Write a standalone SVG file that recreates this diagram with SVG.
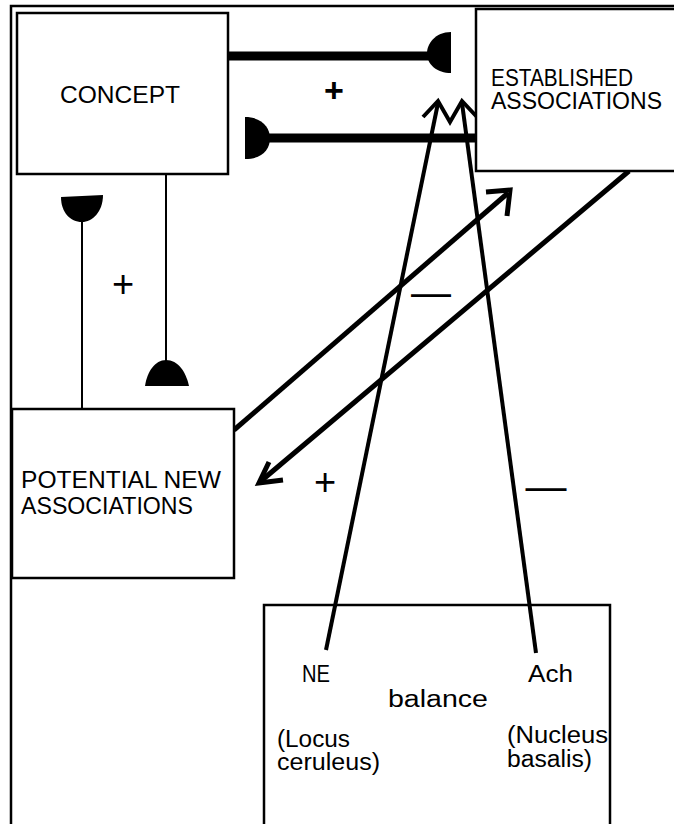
<svg xmlns="http://www.w3.org/2000/svg" width="674" height="824" viewBox="0 0 674 824">
<style>
.box{fill:#fff;stroke:#000;stroke-width:2.5}
.open{fill:none;stroke:#000;stroke-width:2.5}
.t{font-family:"Liberation Sans",Arial,sans-serif;font-size:23px;fill:#000}
.thin{stroke:#000;stroke-width:2;fill:none}
.thick{stroke:#000;stroke-width:9;fill:none}
.arr{stroke:#000;stroke-width:5;fill:none;stroke-linejoin:miter}
.mid{stroke:#000;stroke-width:4;fill:none}
.cup{fill:#000;stroke:none}
.sign{font-family:"Liberation Sans",Arial,sans-serif;fill:#000;text-anchor:middle}
</style>
<rect width="674" height="824" fill="#fff"/>
<path d="M11,824 L11,6 L674,6" stroke="#000" stroke-width="2.5" fill="none"/>
<g id="balance">
  <rect class="open" x="264" y="605" width="346" height="240"/>
  <text class="t" x="302" y="682" textLength="28" lengthAdjust="spacingAndGlyphs">NE</text>
  <text class="t" x="528" y="682" textLength="45" lengthAdjust="spacingAndGlyphs">Ach</text>
  <text class="t" x="388" y="707" textLength="100" lengthAdjust="spacingAndGlyphs">balance</text>
  <text class="t" x="277" y="747" textLength="73" lengthAdjust="spacingAndGlyphs">(Locus</text>
  <text class="t" x="277" y="770" textLength="103" lengthAdjust="spacingAndGlyphs">ceruleus)</text>
  <text class="t" x="507" y="743" textLength="101" lengthAdjust="spacingAndGlyphs">(Nucleus</text>
  <text class="t" x="507" y="767" textLength="85" lengthAdjust="spacingAndGlyphs">basalis)</text>
</g>
<g id="connectors">
  <line class="thick" x1="228" y1="56" x2="432" y2="56"/>
  <path class="cup" d="M451,32 C435,32 427,44 427,53 C427,65 437,73 451,73 Z"/>
  <line class="thick" x1="262" y1="138" x2="478" y2="138"/>
  <path class="cup" d="M245,117 C262,117 270,128 270,138 C270,150 262,159 245,159 Z"/>
  <line class="thin" x1="166" y1="174" x2="166" y2="362"/>
  <path class="cup" d="M145,386 C147,372 155,360 166,360 C178,360 186,372 189,386 Z"/>
  <line class="thin" x1="82" y1="220" x2="82" y2="409"/>
  <path class="cup" d="M61,197 L103,195 C103,212 92,222 82,222 C70,222 61,212 61,197 Z"/>
  <line class="arr" x1="234" y1="430" x2="508" y2="193"/>
  <polyline class="arr" points="486,192 510,190 507,216"/>
  <line class="arr" x1="629" y1="171" x2="261" y2="481"/>
  <polyline class="arr" points="269,462 259,483 283,480"/>
  <line class="mid" x1="326" y1="650" x2="438" y2="103"/>
  <line class="mid" x1="536" y1="653" x2="462" y2="103"/>
  <polyline class="mid" points="423,117 438,101 450,122 462,101 477,117"/>
</g>
<g id="concept">
  <rect class="box" x="17" y="13" width="211" height="161"/>
  <text class="t" x="60" y="103" textLength="120" lengthAdjust="spacingAndGlyphs">CONCEPT</text>
</g>
<g id="established">
  <rect class="box" x="476" y="9" width="210" height="162"/>
  <text class="t" x="491" y="86" textLength="142" lengthAdjust="spacingAndGlyphs">ESTABLISHED</text>
  <text class="t" x="491" y="109" textLength="171" lengthAdjust="spacingAndGlyphs">ASSOCIATIONS</text>
</g>
<g id="potential">
  <rect class="box" x="12" y="409" width="222" height="169"/>
  <text class="t" x="21" y="488" textLength="200" lengthAdjust="spacingAndGlyphs">POTENTIAL  NEW</text>
  <text class="t" x="21" y="514" textLength="172" lengthAdjust="spacingAndGlyphs">ASSOCIATIONS</text>
</g>
<g id="labels">
  <text class="sign" x="334" y="102" font-size="34" font-weight="bold">+</text>
  <text class="sign" x="123" y="297" font-size="38">+</text>
  <text class="sign" x="325" y="495" font-size="38">+</text>
  <text class="sign" x="431" y="306" font-size="40">—</text>
  <text class="sign" x="546" y="500" font-size="41">—</text>
</g>
</svg>
